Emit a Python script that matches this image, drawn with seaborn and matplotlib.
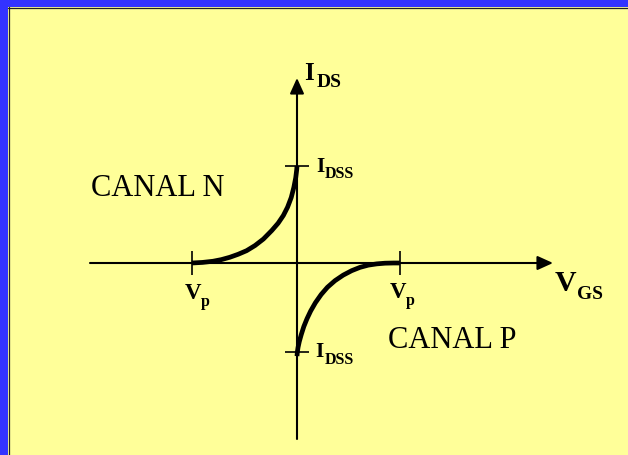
import numpy as np
import pandas as pd
import matplotlib
matplotlib.use("Agg")
import matplotlib.pyplot as plt
import seaborn as sns
from matplotlib.patches import Rectangle
from matplotlib.lines import Line2D

# Transfer curves of JFETs, in units where |Vp| ~ 1 and IDSS ~ 1
VP_N, IDSS_N = -1.0, 1.0
VP_P, IDSS_P = 0.98, -0.92

vgs_n = [-1.00, -0.90, -0.80, -0.72, -0.64, -0.56, -0.48, -0.40, -0.32,
         -0.24, -0.18, -0.13, -0.09, -0.055, -0.03, -0.012, -0.003, 0.0]
id_n = [0.00, 0.006, 0.018, 0.035, 0.059, 0.09, 0.127, 0.18, 0.247,
        0.335, 0.41, 0.49, 0.575, 0.675, 0.78, 0.88, 0.96, 1.0]

vgs_p = [0.000, 0.003, 0.010, 0.022, 0.040, 0.065, 0.095, 0.130, 0.175,
         0.23, 0.29, 0.362, 0.44, 0.521, 0.60, 0.679, 0.76, 0.838, 0.92, 0.98]
id_p = [-0.96, -0.92, -0.87, -0.81, -0.74, -0.655, -0.575, -0.495, -0.41,
        -0.325, -0.25, -0.182, -0.125, -0.079, -0.045, -0.022, -0.009, -0.002, 0.0, 0.0]

YELLOW = "#FFFF99"
BLUE = "#3333FF"
W, H = 628, 456
X0, Y0, SX, SY = 297, 264, 105, 97   # pixel position of origin and scale


def px(x, y):
    # pixel position -> data coords (for placing the labels)
    return (x - X0) / SX, (Y0 - y) / SY


sns.set_theme(style="white")
plt.rcParams["font.family"] = ["Liberation Serif", "DejaVu Serif"]

fig = plt.figure(figsize=(W / 100, H / 100), dpi=100)
fig.patch.set_facecolor(YELLOW)
ax = fig.add_axes([0, 0, 1, 1])
ax.set_facecolor(YELLOW)
ax.set_xlim(-X0 / SX, (W - X0) / SX)
ax.set_ylim((Y0 - H) / SY, Y0 / SY)
ax.axis("off")

# blue frame top and left
fig.patches.append(Rectangle((0, 1 - 8 / H), 1, 8 / H, transform=fig.transFigure,
                             facecolor=BLUE, edgecolor="none", zorder=0))
fig.patches.append(Rectangle((0, 0), 8 / W, 1, transform=fig.transFigure,
                             facecolor=BLUE, edgecolor="none", zorder=0))
fig.lines.append(Line2D([8 / W, 1], [1 - 8.5 / H, 1 - 8.5 / H], transform=fig.transFigure,
                        color="#222222", lw=0.9))
fig.lines.append(Line2D([8.5 / W, 8.5 / W], [0, 1 - 8 / H], transform=fig.transFigure,
                        color="#222222", lw=0.9))

# axes with arrows
arrow = dict(arrowstyle="-|>,head_length=0.75,head_width=0.34", color="black",
             lw=1.5, mutation_scale=12.5, shrinkA=0, shrinkB=0)
ax.annotate("", xy=px(553, Y0), xytext=px(90, Y0), arrowprops=arrow)
ax.annotate("", xy=px(X0, 79), xytext=px(X0, 440), arrowprops=arrow)

# ticks at Vp and IDSS
ax.vlines([VP_N, VP_P], -0.12, 0.12, color="black", lw=1.2)
ax.hlines([IDSS_N, IDSS_P], -0.115, 0.115, color="black", lw=1.2)

# curves
df_n = pd.DataFrame({"vgs": vgs_n, "id": id_n})
df_p = pd.DataFrame({"vgs": vgs_p, "id": id_p})
for d in (df_n, df_p):
    sns.lineplot(data=d, x="vgs", y="id", sort=False, estimator=None,
                 color="black", lw=3.4, ax=ax, solid_capstyle="butt",
                 solid_joinstyle="round")

bold = dict(fontweight="bold", color="black", ha="left", va="baseline")


def sub_label(main, sub, xm, ym, sm, xs, ys, ss):
    ax.text(*px(xm, ym), main, fontsize=sm, **bold)
    ax.text(*px(xs, ys), sub, fontsize=ss, **bold)


sub_label("I", "DS", 304.5, 80, 18, 317, 87, 14)
sub_label("V", "GS", 555, 291.5, 21.5, 577, 299, 14)
sub_label("I", "DSS", 316, 172, 15.5, 325, 178.5, 11.5)
sub_label("I", "DSS", 315.5, 357, 15.5, 324.5, 364, 11.5)
sub_label("V", "p", 184.5, 299.5, 16.5, 200.5, 306.5, 11.5)
sub_label("V", "p", 389.5, 298.5, 16.5, 405.5, 305.5, 11.5)

ax.text(*px(91, 196.5), "CANAL N", fontsize=22, color="black", ha="left", va="baseline")
ax.text(*px(387.5, 348), "CANAL P", fontsize=22, color="black", ha="left", va="baseline")

fig.savefig("out.png", dpi=100, facecolor=YELLOW)
